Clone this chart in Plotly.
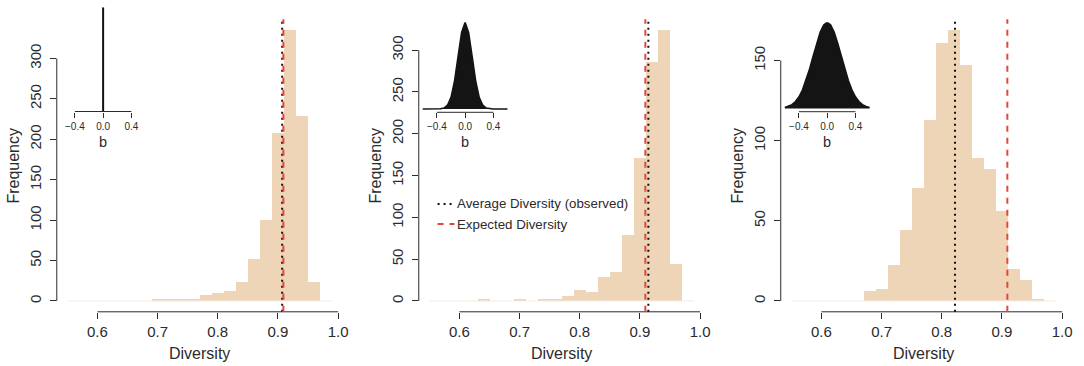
import plotly.graph_objects as go

# ---------------- data ----------------
BIN_START = 0.55
BIN_WIDTH = 0.02
counts_a = [0, 0, 0, 0, 0, 0, 0, 1, 1, 1, 1, 7, 9, 12, 23, 52, 100, 207, 335, 228, 23, 0]
counts_b = [0, 0, 0, 0, 1, 0, 0, 1, 0, 1, 1, 6, 13, 10, 28, 34, 79, 171, 286, 324, 44, 0]
counts_c = [0, 0, 0, 0, 0, 0, 6, 7, 22, 44, 70, 113, 161, 169, 147, 89, 82, 56, 20, 13, 1, 0]
observed = [0.907, 0.914, 0.822]
expected = [0.909, 0.909, 0.909]

x_ticks = [0.6, 0.7, 0.8, 0.9, 1.0]
x_tick_labels = ["0.6", "0.7", "0.8", "0.9", "1.0"]
y_ticks_a = [0, 50, 100, 150, 200, 250, 300]
y_ticks_b = [0, 50, 100, 150, 200, 250, 300]
y_ticks_c = [0, 50, 100, 150]

# inset densities of b (relative height)
b_grid = [-0.6, -0.55, -0.5, -0.45, -0.4, -0.35, -0.3, -0.25, -0.2, -0.15, -0.1, -0.05, 0.0,
          0.05, 0.1, 0.15, 0.2, 0.25, 0.3, 0.35, 0.4, 0.45, 0.5, 0.55, 0.6]
dens_b = [0, 0, 0, 0, 0.0003, 0.002, 0.011, 0.044, 0.135, 0.325, 0.607, 0.883, 1.0,
          0.883, 0.607, 0.325, 0.135, 0.044, 0.011, 0.002, 0.0003, 0, 0, 0, 0]
dens_c = [0.011, 0.023, 0.044, 0.080, 0.135, 0.216, 0.325, 0.458, 0.607, 0.755, 0.883, 0.969, 1.0,
          0.969, 0.883, 0.755, 0.607, 0.458, 0.325, 0.216, 0.135, 0.080, 0.044, 0.023, 0.011]
spike_b = [0.0, 0.0]
spike_h = [0.0, 1.0]
inset_ticks = [-0.4, 0.0, 0.4]
inset_tick_labels = ["\u22120.4", "0.0", "0.4"]

legend_labels = ["Average Diversity (observed)", "Expected Diversity"]

# ---------------- style ----------------
W, H = 1084, 366
FONT = "Liberation Sans, Arial, sans-serif"
TXT = "#2b2b2b"
AX = "#2b2b2b"
BAR = "#EED5B7"
RED = "#E4463B"

panels = [
    dict(counts=counts_a, yt=y_ticks_a, obs=observed[0], exp=expected[0], px=(57.1, 344.6)),
    dict(counts=counts_b, yt=y_ticks_b, obs=observed[1], exp=expected[1], px=(421.1, 708.6)),
    dict(counts=counts_c, yt=y_ticks_c, obs=observed[2], exp=expected[2], px=(785.1, 1072.6)),
]
insets = [
    dict(x=spike_b, y=spike_h, kind="spike", zero=103.7, ypx=(111.5, 7.3), yr=(0, 1)),
    dict(x=b_grid, y=dens_b, kind="dens", zero=467.7, ypx=(112.3, 22.3), yr=(-0.038, 1.0)),
    dict(x=b_grid, y=dens_c, kind="dens", zero=831.8, ypx=(111.7, 22.3), yr=(-0.038, 1.0)),
]

ydom = [1 - 311.8 / H, 1 - 19.3 / H]
nb = len(counts_a)
centers = [BIN_START + BIN_WIDTH * (k + 0.5) for k in range(nb)]
xlo = BIN_START - 0.04 * (nb * BIN_WIDTH)
xhi = BIN_START + nb * BIN_WIDTH + 0.04 * (nb * BIN_WIDTH)

fig = go.Figure()
layout = dict(
    width=W, height=H, margin=dict(l=0, r=0, t=0, b=0),
    paper_bgcolor="white", plot_bgcolor="white", showlegend=False,
    bargap=0, font=dict(family=FONT, color=TXT),
)
shapes = []
annotations = []


def nm(i):
    return "" if i == 1 else str(i)


for i, p in enumerate(panels, start=1):
    s = nm(i)
    M = max(p["counts"])
    # faint baseline of the empty bins
    fig.add_trace(go.Scatter(x=[BIN_START, BIN_START + nb * BIN_WIDTH], y=[0, 0], mode="lines",
                             line=dict(color="#F4EADD", width=1), xaxis="x" + s, yaxis="y" + s,
                             hoverinfo="skip"))
    fig.add_trace(go.Bar(x=centers, y=p["counts"], width=BIN_WIDTH, marker=dict(color=BAR, line=dict(width=0)),
                         xaxis="x" + s, yaxis="y" + s))
    layout["xaxis" + s] = dict(
        domain=[p["px"][0] / W, p["px"][1] / W], range=[xlo, xhi], anchor="y" + s,
        tickvals=x_ticks, ticktext=x_tick_labels, ticks="outside", ticklen=6, tickwidth=1,
        tickcolor=AX, showline=False, showgrid=False, zeroline=False,
        tickfont=dict(size=15, color=TXT, family=FONT),
    )
    layout["yaxis" + s] = dict(
        domain=ydom, range=[-0.04 * M, 1.04 * M], anchor="x" + s,
        tickvals=p["yt"], ticktext=[str(v) for v in p["yt"]], ticks="outside", ticklen=6, tickwidth=1,
        tickcolor=AX, showline=False, showgrid=False, zeroline=False, tickangle=-90,
        ticklabelstandoff=3,
        tickfont=dict(size=15, color=TXT, family=FONT),
    )
    # R-style axis lines spanning only the tick range
    shapes.append(dict(type="line", xref="x" + s, yref="y" + s + " domain", x0=x_ticks[0], x1=x_ticks[-1],
                       y0=0, y1=0, line=dict(color=AX, width=1)))
    shapes.append(dict(type="line", xref="x" + s + " domain", yref="y" + s, x0=0, x1=0,
                       y0=p["yt"][0], y1=p["yt"][-1], line=dict(color=AX, width=1)))
    # reference lines
    shapes.append(dict(type="line", xref="x" + s, yref="y" + s + " domain", x0=p["obs"], x1=p["obs"],
                       y0=0, y1=1, line=dict(color="#111111", width=2, dash="2px,4px")))
    shapes.append(dict(type="line", xref="x" + s, yref="y" + s + " domain", x0=p["exp"], x1=p["exp"],
                       y0=0, y1=1, line=dict(color=RED, width=2, dash="6px,6px")))
    # axis titles
    annotations.append(dict(text="Diversity", xref="x" + s + " domain", x=0.5, yref="paper", y=1 - 353 / H,
                            showarrow=False, font=dict(size=16, color=TXT, family=FONT),
                            xanchor="center", yanchor="middle"))
    annotations.append(dict(text="Frequency", xref="paper", x=(p["px"][0] - 43) / W, yref="y" + s + " domain",
                            y=0.5, textangle=-90, showarrow=False, font=dict(size=16, color=TXT, family=FONT),
                            xanchor="center", yanchor="middle"))

# insets
for j, ins in enumerate(insets, start=4):
    s = str(j)
    half = 0.65 * 71.0
    layout["xaxis" + s] = dict(
        domain=[(ins["zero"] - half) / W, (ins["zero"] + half) / W], range=[-0.65, 0.65], anchor="y" + s,
        tickvals=inset_ticks, ticktext=inset_tick_labels, ticks="outside", ticklen=5, tickwidth=1,
        tickcolor=AX, showline=False, showgrid=False, zeroline=False,
        tickfont=dict(size=10, color=TXT, family=FONT),
    )
    layout["yaxis" + s] = dict(
        domain=[1 - ins["ypx"][0] / H, 1 - ins["ypx"][1] / H], range=list(ins["yr"]), anchor="x" + s,
        visible=False, showgrid=False, zeroline=False,
    )
    if ins["kind"] == "spike":
        fig.add_trace(go.Scatter(x=ins["x"], y=ins["y"], mode="lines", line=dict(color="#111111", width=2),
                                 xaxis="x" + s, yaxis="y" + s, hoverinfo="skip"))
    else:
        fig.add_trace(go.Scatter(x=ins["x"], y=ins["y"], mode="lines", fill="tozeroy", fillcolor="#141414",
                                 line=dict(color="#141414", width=1.5), xaxis="x" + s, yaxis="y" + s,
                                 hoverinfo="skip"))
    shapes.append(dict(type="line", xref="x" + s, yref="y" + s + " domain", x0=inset_ticks[0], x1=inset_ticks[-1],
                       y0=0, y1=0, line=dict(color=AX, width=1)))
    annotations.append(dict(text="b", xref="x" + s, x=0, yref="paper", y=1 - 141.7 / H, showarrow=False,
                            font=dict(size=14.5, color=TXT, family=FONT), xanchor="center", yanchor="middle"))

# legend (panel 2)
leg_styles = [dict(color="#111111", width=2, dash="2px,4px"), dict(color=RED, width=2, dash="6px,6px")]
for k, (lab, st) in enumerate(zip(legend_labels, leg_styles)):
    yy = 1 - (204 + 20 * k) / H
    shapes.append(dict(type="line", xref="paper", yref="paper", x0=440 / W, x1=457 / W, y0=yy, y1=yy, line=st))
    annotations.append(dict(text=lab, xref="paper", yref="paper", x=458 / W, y=yy, showarrow=False,
                            xanchor="left", yanchor="middle", font=dict(size=13.3, color=TXT, family=FONT)))

layout["shapes"] = shapes
layout["annotations"] = annotations
fig.update_layout(**layout)
fig.write_html("out.html")
